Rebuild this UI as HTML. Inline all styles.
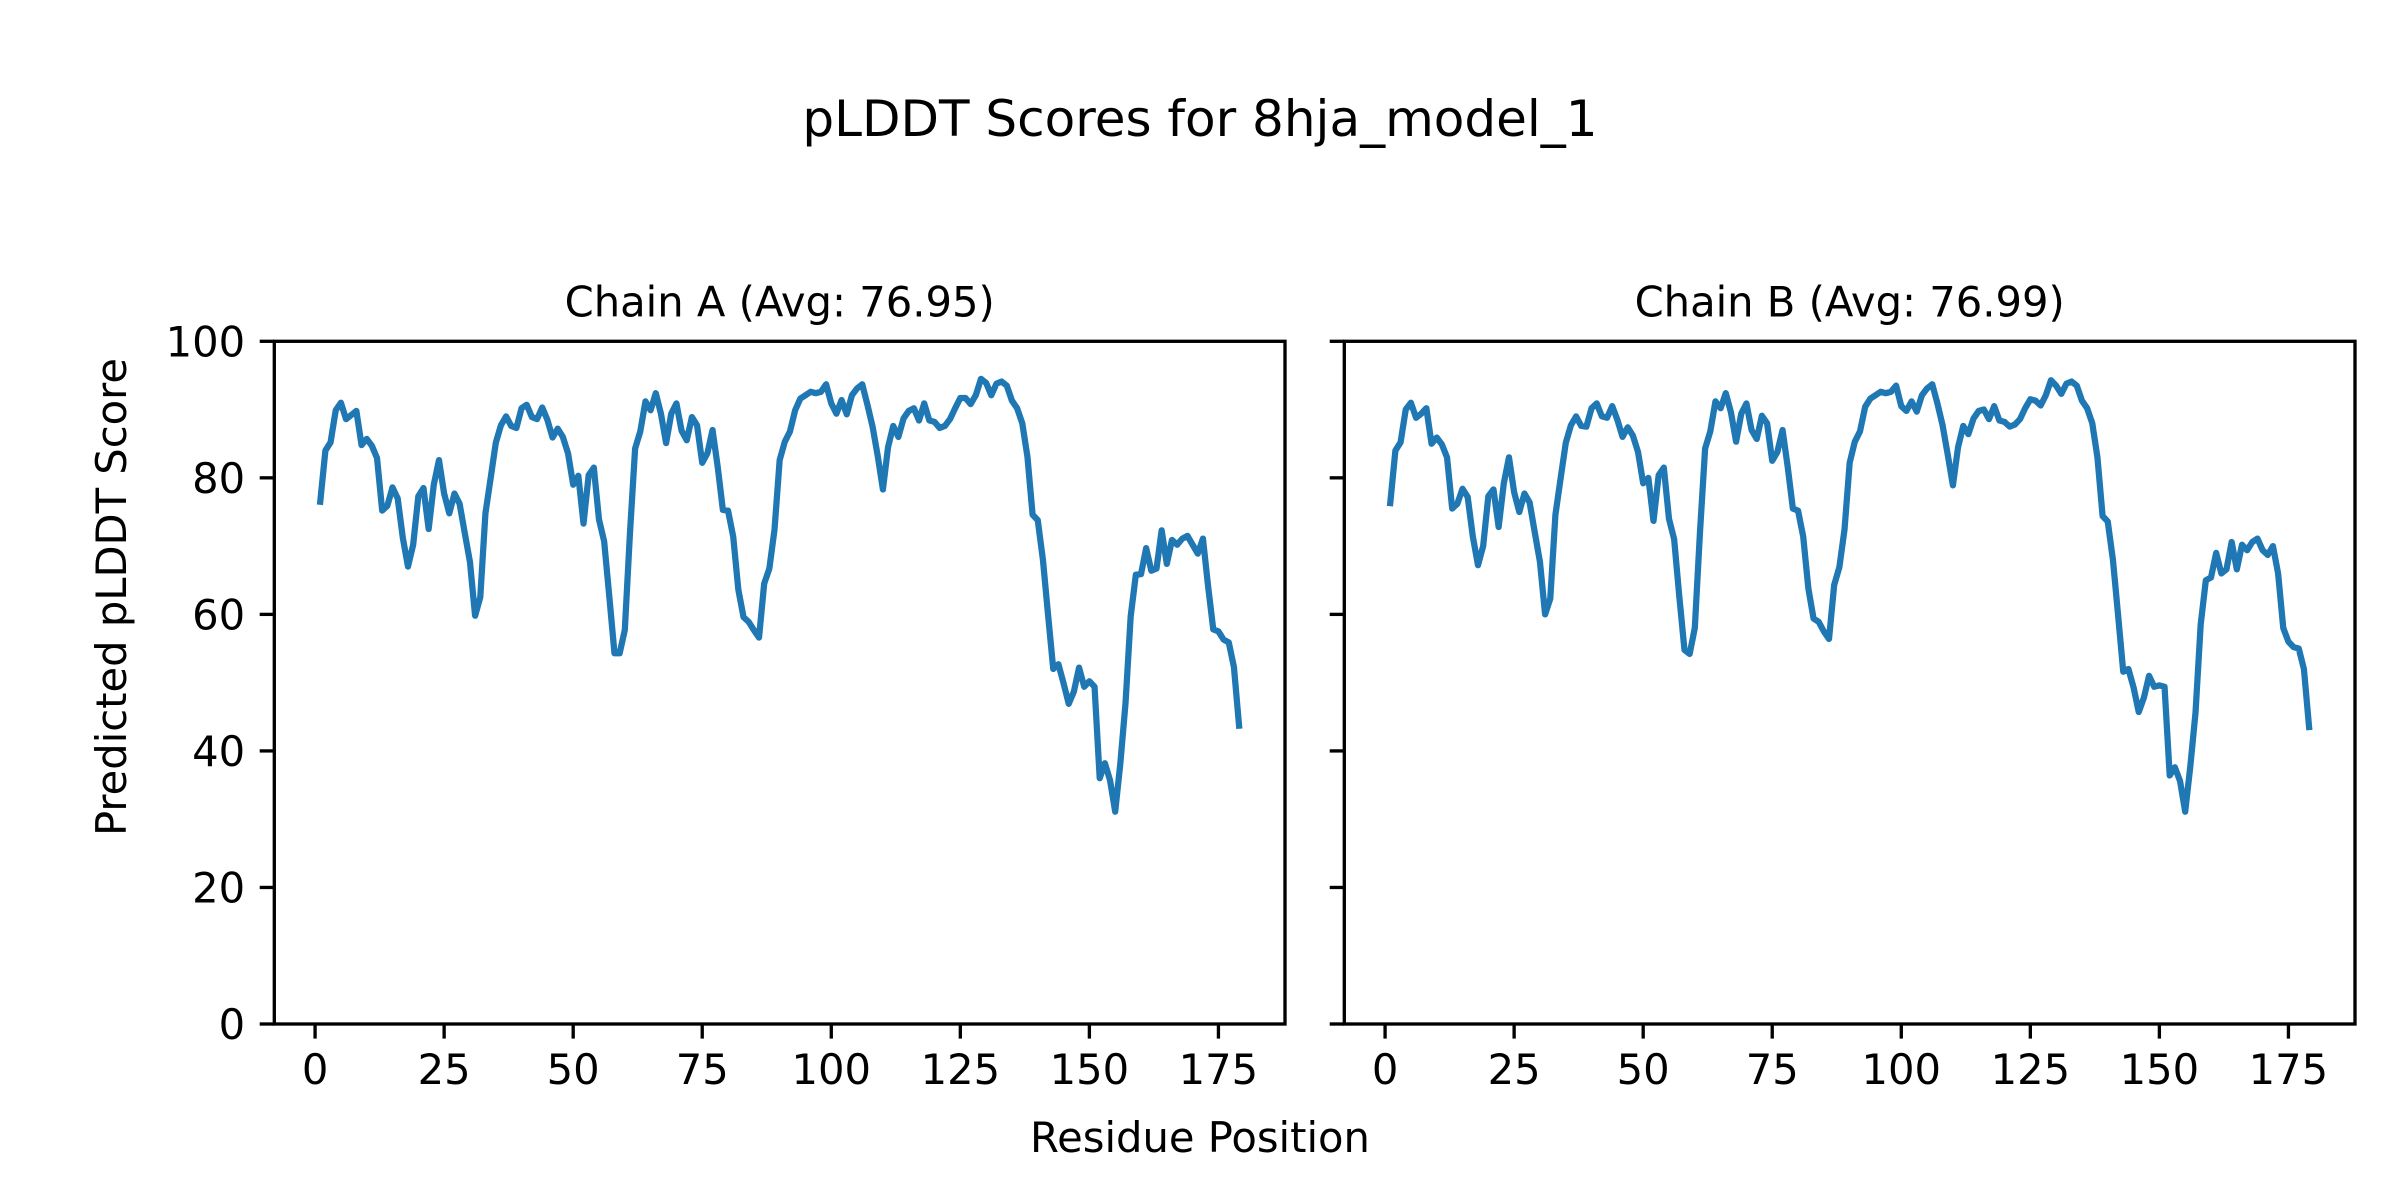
<!DOCTYPE html>
<html>
<head>
<meta charset="utf-8">
<style>
html,body{margin:0;padding:0;background:#fff;}
svg{display:block;}
text{font-family:"DejaVu Sans","Liberation Sans",sans-serif;fill:#000;}
</style>
</head>
<body>
<svg width="2400" height="1200" viewBox="0 0 2400 1200" xmlns="http://www.w3.org/2000/svg">
<rect x="0" y="0" width="2400" height="1200" fill="#fff"/>

<!-- Suptitle -->
<text x="1200" y="136" font-size="50" text-anchor="middle">pLDDT Scores for 8hja_model_1</text>

<!-- Subplot titles -->
<text x="779.7" y="316.3" font-size="41.67" text-anchor="middle">Chain A (Avg: 76.95)</text>
<text x="1849.7" y="316.3" font-size="41.67" text-anchor="middle">Chain B (Avg: 76.99)</text>

<!-- Y label -->
<text transform="translate(126,597) rotate(-90)" font-size="41.67" text-anchor="middle">Predicted pLDDT Score</text>
<!-- X label -->
<text x="1200" y="1152" font-size="41.67" text-anchor="middle">Residue Position</text>

<!-- Data lines -->
<g transform="translate(315.08,1024) scale(5.162,-6.827)">
<polyline fill="none" stroke="#1f77b4" stroke-width="6.25" stroke-linejoin="round" stroke-linecap="square" vector-effect="non-scaling-stroke" points="1,76.5 2,84.0 3,85.2 4,89.9 5,91.0 6,88.6 7,89.2 8,89.8 9,84.8 10,85.7 11,84.7 12,82.9 13,75.2 14,75.9 15,78.6 16,77.0 17,71.2 18,67.0 19,70.2 20,77.3 21,78.5 22,72.5 23,79.0 24,82.6 25,77.7 26,74.8 27,77.7 28,76.2 29,71.9 30,67.7 31,59.8 32,62.5 33,74.8 34,79.9 35,85.1 36,87.7 37,89.0 38,87.6 39,87.3 40,90.2 41,90.7 42,88.9 43,88.6 44,90.3 45,88.5 46,85.9 47,87.2 48,86.0 49,83.6 50,79.0 51,80.3 52,73.3 53,80.4 54,81.5 55,73.9 56,70.7 57,62.6 58,54.3 59,54.3 60,57.7 61,71.9 62,84.3 63,86.8 64,91.2 65,89.9 66,92.4 67,89.4 68,85.1 69,89.4 70,90.9 71,86.9 72,85.5 73,88.9 74,87.7 75,82.2 76,83.6 77,87.0 78,81.6 79,75.3 80,75.2 81,71.4 82,63.6 83,59.6 84,58.9 85,57.7 86,56.6 87,64.5 88,66.7 89,72.4 90,82.6 91,85.3 92,86.8 93,89.9 94,91.6 95,92.1 96,92.6 97,92.4 98,92.6 99,93.7 100,90.9 101,89.4 102,91.4 103,89.3 104,92.1 105,93.1 106,93.7 107,90.7 108,87.5 109,83.2 110,78.3 111,84.5 112,87.6 113,86.0 114,88.7 115,89.8 116,90.2 117,88.4 118,90.9 119,88.4 120,88.2 121,87.3 122,87.6 123,88.6 124,90.2 125,91.7 126,91.7 127,90.8 128,92.1 129,94.5 130,93.9 131,92.1 132,93.8 133,94.1 134,93.5 135,91.3 136,90.2 137,88.0 138,83.1 139,74.6 140,73.8 141,68.0 142,59.9 143,52.0 144,52.7 145,49.9 146,46.9 147,48.7 148,52.2 149,49.4 150,50.2 151,49.4 152,36.0 153,38.2 154,35.7 155,31.1 156,38.2 157,47.0 158,59.7 159,65.8 160,65.9 161,69.7 162,66.4 163,66.7 164,72.3 165,67.4 166,70.9 167,70.2 168,71.1 169,71.5 170,70.2 171,68.9 172,71.1 173,64.1 174,57.8 175,57.5 176,56.3 177,55.9 178,52.3 179,43.7"/>
</g>
<g transform="translate(1385.08,1024) scale(5.162,-6.827)">
<polyline fill="none" stroke="#1f77b4" stroke-width="6.25" stroke-linejoin="round" stroke-linecap="square" vector-effect="non-scaling-stroke" points="1,76.3 2,84.0 3,85.2 4,90.0 5,91.0 6,88.8 7,89.4 8,90.2 9,85.0 10,85.9 11,84.9 12,83.0 13,75.5 14,76.2 15,78.4 16,77.2 17,71.4 18,67.2 19,70.0 20,77.3 21,78.3 22,72.8 23,79.2 24,83.0 25,77.9 26,75.0 27,77.7 28,76.4 29,72.0 30,67.7 31,60.0 32,62.3 33,74.6 34,79.9 35,85.1 36,87.7 37,89.0 38,87.6 39,87.5 40,90.2 41,90.9 42,89.0 43,88.8 44,90.5 45,88.5 46,86.0 47,87.4 48,86.2 49,83.8 50,79.2 51,80.0 52,73.7 53,80.4 54,81.5 55,74.0 56,71.0 57,62.6 58,54.8 59,54.2 60,58.0 61,72.0 62,84.3 63,86.8 64,91.2 65,90.2 66,92.4 67,89.6 68,85.3 69,89.4 70,90.9 71,87.0 72,85.7 73,89.1 74,88.0 75,82.5 76,83.8 77,87.0 78,81.6 79,75.5 80,75.2 81,71.4 82,63.8 83,59.4 84,58.9 85,57.5 86,56.4 87,64.3 88,66.9 89,72.4 90,82.2 91,85.3 92,86.8 93,90.4 94,91.6 95,92.1 96,92.6 97,92.4 98,92.6 99,93.5 100,90.5 101,89.8 102,91.2 103,89.7 104,92.1 105,93.1 106,93.7 107,90.9 108,87.7 109,83.4 110,78.9 111,84.5 112,87.6 113,86.4 114,88.7 115,89.8 116,90.0 117,88.6 118,90.5 119,88.4 120,88.2 121,87.5 122,87.8 123,88.6 124,90.2 125,91.5 126,91.3 127,90.6 128,92.1 129,94.3 130,93.5 131,92.3 132,93.8 133,94.1 134,93.5 135,91.3 136,90.2 137,88.0 138,83.0 139,74.4 140,73.6 141,68.0 142,59.9 143,51.6 144,52.0 145,49.3 146,45.7 147,47.8 148,51.0 149,49.4 150,49.6 151,49.4 152,36.4 153,37.6 154,35.6 155,31.1 156,37.8 157,45.6 158,58.5 159,65.0 160,65.4 161,69.0 162,66.0 163,66.6 164,70.6 165,66.6 166,70.2 167,69.4 168,70.6 169,71.1 170,69.4 171,68.7 172,70.0 173,66.0 174,58.0 175,56.0 176,55.2 177,55.0 178,52.0 179,43.5"/>
</g>

<!-- Axes spines -->
<rect x="274.3" y="341.3" width="1010.7" height="682.7" fill="none" stroke="#000" stroke-width="3.33"/>
<rect x="1344.3" y="341.3" width="1010.7" height="682.7" fill="none" stroke="#000" stroke-width="3.33"/>

<!-- Ticks -->
<g stroke="#000" stroke-width="3.33">
<!-- A y ticks -->
<line x1="259.7" y1="1024" x2="274.3" y2="1024"/>
<line x1="259.7" y1="887.46" x2="274.3" y2="887.46"/>
<line x1="259.7" y1="750.92" x2="274.3" y2="750.92"/>
<line x1="259.7" y1="614.38" x2="274.3" y2="614.38"/>
<line x1="259.7" y1="477.84" x2="274.3" y2="477.84"/>
<line x1="259.7" y1="341.3" x2="274.3" y2="341.3"/>
<!-- B y ticks -->
<line x1="1329.7" y1="1024" x2="1344.3" y2="1024"/>
<line x1="1329.7" y1="887.46" x2="1344.3" y2="887.46"/>
<line x1="1329.7" y1="750.92" x2="1344.3" y2="750.92"/>
<line x1="1329.7" y1="614.38" x2="1344.3" y2="614.38"/>
<line x1="1329.7" y1="477.84" x2="1344.3" y2="477.84"/>
<line x1="1329.7" y1="341.3" x2="1344.3" y2="341.3"/>
<!-- A x ticks -->
<line x1="315.08" y1="1024" x2="315.08" y2="1038.6"/>
<line x1="444.13" y1="1024" x2="444.13" y2="1038.6"/>
<line x1="573.18" y1="1024" x2="573.18" y2="1038.6"/>
<line x1="702.23" y1="1024" x2="702.23" y2="1038.6"/>
<line x1="831.28" y1="1024" x2="831.28" y2="1038.6"/>
<line x1="960.33" y1="1024" x2="960.33" y2="1038.6"/>
<line x1="1089.38" y1="1024" x2="1089.38" y2="1038.6"/>
<line x1="1218.43" y1="1024" x2="1218.43" y2="1038.6"/>
<!-- B x ticks -->
<line x1="1385.08" y1="1024" x2="1385.08" y2="1038.6"/>
<line x1="1514.13" y1="1024" x2="1514.13" y2="1038.6"/>
<line x1="1643.18" y1="1024" x2="1643.18" y2="1038.6"/>
<line x1="1772.23" y1="1024" x2="1772.23" y2="1038.6"/>
<line x1="1901.28" y1="1024" x2="1901.28" y2="1038.6"/>
<line x1="2030.33" y1="1024" x2="2030.33" y2="1038.6"/>
<line x1="2159.38" y1="1024" x2="2159.38" y2="1038.6"/>
<line x1="2288.43" y1="1024" x2="2288.43" y2="1038.6"/>
</g>

<!-- Y tick labels -->
<g font-size="41.67" text-anchor="end">
<text x="245.1" y="1039.2">0</text>
<text x="245.1" y="902.7">20</text>
<text x="245.1" y="766.1">40</text>
<text x="245.1" y="629.6">60</text>
<text x="245.1" y="493.0">80</text>
<text x="245.1" y="356.5">100</text>
</g>

<!-- X tick labels -->
<g font-size="41.67" text-anchor="middle">
<text x="315.08" y="1084">0</text>
<text x="444.13" y="1084">25</text>
<text x="573.18" y="1084">50</text>
<text x="702.23" y="1084">75</text>
<text x="831.28" y="1084">100</text>
<text x="960.33" y="1084">125</text>
<text x="1089.38" y="1084">150</text>
<text x="1218.43" y="1084">175</text>
<text x="1385.08" y="1084">0</text>
<text x="1514.13" y="1084">25</text>
<text x="1643.18" y="1084">50</text>
<text x="1772.23" y="1084">75</text>
<text x="1901.28" y="1084">100</text>
<text x="2030.33" y="1084">125</text>
<text x="2159.38" y="1084">150</text>
<text x="2288.43" y="1084">175</text>
</g>
</svg>
</body>
</html>
